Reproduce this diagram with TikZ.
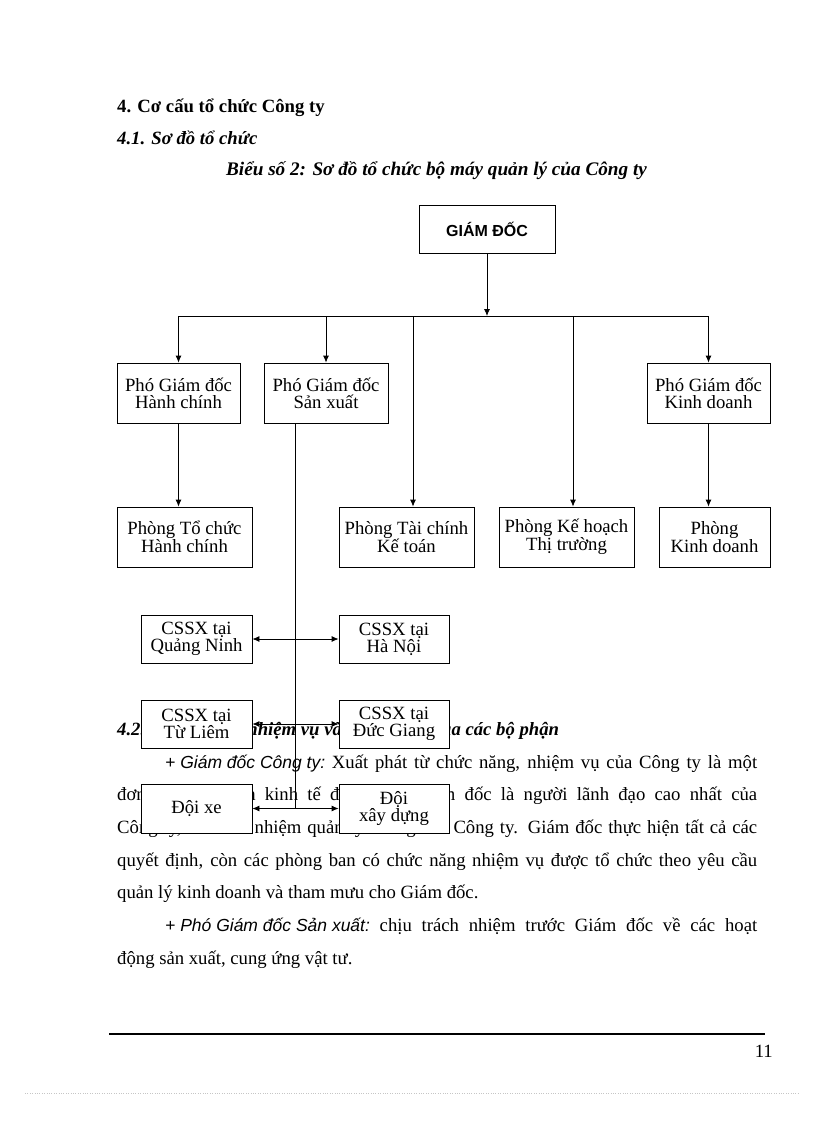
\documentclass[tikz,border=0pt]{standalone}
\usepackage{fontspec}
\setmainfont{Liberation Serif}
\newfontfamily\gdfont{Liberation Sans}
\newfontfamily\lblfont{Liberation Sans}
\usetikzlibrary{arrows.meta,positioning}

\newcommand{\bodyfont}{\fontsize{18.7}{22}\selectfont}
\newcommand{\boxfont}{\fontsize{18.7}{17}\selectfont}
\newcommand{\lbl}[1]{\hbox{\lblfont\itshape\fontsize{17.5}{18}\selectfont #1}}

\begin{document}
\begin{tikzpicture}[x=1pt,y=-1pt]
	\tikzstyle{every node}=[inner sep=0pt]
	\tikzset{box/.style={draw, line width=0.8pt, fill=white, align=center, font=\boxfont},
		txt/.style={anchor=base west, font=\bodyfont},
		link/.style={line width=0.8pt, -{Latex[length=7pt,width=6pt]}},
		dlink/.style={line width=0.8pt, {Latex[length=7pt,width=6pt]}-{Latex[length=7pt,width=6pt]}}}
	\useasboundingbox (0,0) rectangle (816,1123);
	% page text
	\node [txt, font=\bodyfont\bfseries] (h4) at (117,113) {4. Cơ cấu tổ chức Công ty};
	\node [txt, font=\bodyfont\bfseries\itshape] (h41) at (117,145) {4.1. Sơ đồ tổ chức};
	\node [anchor=base, font=\fontsize{19.2}{20}\selectfont\bfseries\itshape] (title) at (436.5,176) {Biểu số 2: Sơ đồ tổ chức bộ máy quản lý của Công ty};
	\node [txt, font=\bodyfont\bfseries\itshape] (h42) at (117,735) {4.2. Chức năng, nhiệm vụ và quyền hạn của các bộ phận};
	\node [txt] (l1) at (165,768) {\hbox to 592pt{\lbl{+ Giám đốc Công ty:} Xuất phát từ chức năng, nhiệm vụ của Công ty là một}};
	\node [txt] (l2) at (117,800.7) {\hbox to 640pt{đơn vị hạch toán kinh tế độc lập. Giám đốc là người lãnh đạo cao nhất của}};
	\node [txt] (l3) at (117,833.4) {\hbox to 640pt{Công ty, có trách nhiệm quản lý chung của Công ty. Giám đốc thực hiện tất cả các}};
	\node [txt] (l4) at (117,866) {\hbox to 640pt{quyết định, còn các phòng ban có chức năng nhiệm vụ được tổ chức theo yêu cầu}};
	\node [txt] (l5) at (117,898.7) {quản lý kinh doanh và tham mưu cho Giám đốc.};
	\node [txt] (l6) at (165,931.4) {\hbox to 592pt{\lbl{+ Phó Giám đốc Sản xuất:} chịu trách nhiệm trước Giám đốc về các hoạt}};
	\node [txt] (l7) at (117,964) {động sản xuất, cung ứng vật tư.};
	% footer
	\coordinate (ruleL) at (109,1034);
	\coordinate (ruleR) at (765,1034);
	\draw [line width=1.3pt] (ruleL) -- (ruleR);
	\node [anchor=base east, font=\bodyfont] (pg) at (773,1057) {11};
	\draw [gray!45, dotted] (25,1093) -- (800,1093);
	% boxes
	\node [box, font=\gdfont\bfseries\fontsize{16}{16}\selectfont, minimum width=136pt, minimum height=48pt] (gd) at (487,229) {GIÁM ĐỐC};
	\node [box, minimum width=123pt, minimum height=60pt] (hc) at (178.5,393) {Phó Giám đốc\\Hành chính};
	\node [box, minimum width=124pt, minimum height=60pt] (sx) at (326,393) {Phó Giám đốc\\Sản xuất};
	\node [box, minimum width=123pt, minimum height=60pt] (kd) at (708.5,393) {Phó Giám đốc\\Kinh doanh};
	\node [box, minimum width=135pt, minimum height=60pt] (ptc) at (184.5,537) {Phòng Tổ chức\\Hành chính};
	\node [box, minimum width=135pt, minimum height=60pt] (tck) at (406.5,537) {Phòng Tài chính\\Kế toán};
	\node [box, minimum width=135pt, minimum height=60pt] (kht) at (566.5,537) {Phòng Kế hoạch\\Thị trường};
	\node [box, minimum width=111pt, minimum height=60pt] (pkd) at (714.5,537) {Phòng\\Kinh doanh};
	\node [box, minimum width=111pt, minimum height=48pt] (qn) at (196.5,639) {CSSX tại\\Quảng Ninh};
	\node [box, minimum width=110pt, minimum height=48pt] (hn) at (394,639) {CSSX tại\\Hà Nội};
	\node [box, minimum width=111pt, minimum height=48pt] (tl) at (196.5,724) {CSSX tại\\Từ Liêm};
	\node [box, minimum width=110pt, minimum height=48pt] (dg) at (394,724) {CSSX tại\\Đức Giang};
	\node [box, minimum width=111pt, minimum height=49pt] (dx) at (196.5,808.5) {Đội xe};
	\node [box, minimum width=110pt, minimum height=49pt] (xd) at (394,808.5) {Đội\\xây dựng};
	% connectors
	\coordinate (bar) at (487,316);
	\coordinate (tcx) at (413,316);
	\coordinate (khx) at (573,316);
	\coordinate (trunk) at (295,809);
	\draw [link] (gd.south) -- (bar);
	\draw [line width=0.8pt] (hc.north |- bar) -- (kd.north |- bar);
	\draw [link] (hc.north |- bar) -- (hc.north);
	\draw [link] (sx.north |- bar) -- (sx.north);
	\draw [link] (kd.north |- bar) -- (kd.north);
	\draw [link] (tcx) -- (tcx |- tck.north);
	\draw [link] (khx) -- (khx |- kht.north);
	\draw [link] (hc.south) -- (hc.south |- ptc.north);
	\draw [link] (kd.south) -- (kd.south |- pkd.north);
	\draw [line width=0.8pt] (sx.south -| trunk) -- (trunk);
	\draw [dlink] (qn.east) -- (hn.west);
	\draw [dlink] (tl.east) -- (dg.west);
	\draw [dlink] (dx.east) -- (xd.west);
\end{tikzpicture}
\end{document}
